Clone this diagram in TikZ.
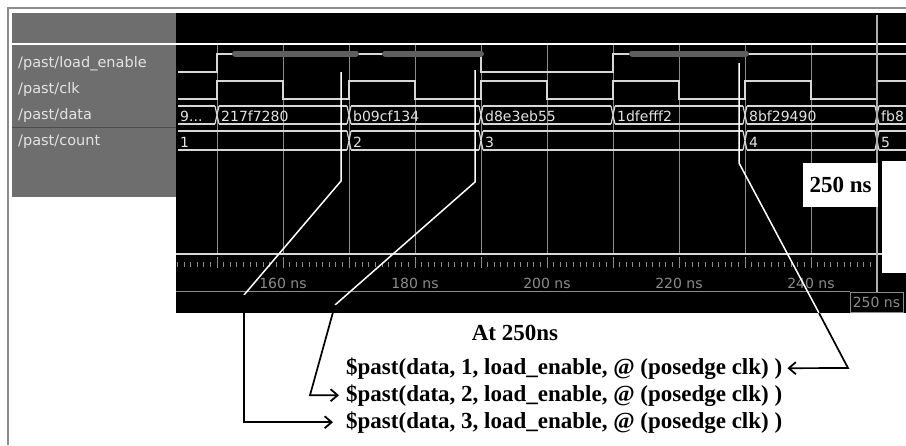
\documentclass[tikz,border=0pt]{standalone}
\usepackage{fontspec}
\setmainfont{Liberation Serif}
\newfontfamily\wavefont{DejaVu Sans}
\usetikzlibrary{arrows.meta,positioning,calc}
\definecolor{framegray}{RGB}{140,140,140}
\definecolor{panelgray}{RGB}{110,110,110}
\definecolor{labelwhite}{RGB}{228,228,228}
\definecolor{wavewhite}{RGB}{215,215,215}
\definecolor{gridgray}{RGB}{140,140,140}
\definecolor{bargray}{RGB}{95,95,95}
\definecolor{cursorgray}{RGB}{175,175,175}
\tikzset{>={Straight Barb[length=7pt,width=12pt,line width=1.8pt]}, wave/.style={draw=wavewhite, line width=1.2pt},
gridline/.style={draw=gridgray, line width=0.8pt},
siglabel/.style={anchor=base west, inner sep=0pt, text=labelwhite, font=\wavefont\fontsize{14.5}{14.5}\selectfont},
busval/.style={anchor=base west, inner sep=0pt, text=labelwhite, font=\wavefont\fontsize{14}{14}\selectfont},
timelbl/.style={anchor=base, inner sep=0pt, text=gridgray, font=\wavefont\fontsize{14}{14}\selectfont},
anntext/.style={inner sep=0pt, font=\bfseries\fontsize{23}{23}\selectfont},
holdbar/.style={draw=bargray, line width=6pt, line cap=round},
callout/.style={draw=white, line width=1.5pt},
pointer/.style={draw=black, line width=1.7pt, ->}}

\begin{document}
\begin{tikzpicture}[x=1pt,y=-1pt]
\useasboundingbox (0,0) rectangle (906,445);
% Window frame and panels
\draw[framegray, line width=1.5pt] (8,445) -- (8,8) -- (906,8);
\fill[panelgray] (12,13) rectangle (176,197);
\fill[black] (176,13) rectangle (906,313);
\draw[white, line width=2.5pt] (12,44) -- (906,44);
\draw[black!70, line width=1pt] (12,127) -- (176,127);
% Signal names
\node[siglabel] (lblload) at (18,67) {/past/load\_enable};
\node[siglabel] (lblclk) at (18,93) {/past/clk};
\node[siglabel] (lbldata) at (18,119) {/past/data};
\node[siglabel] (lblcount) at (18,145) {/past/count};
% Grid
\foreach \gx in {217,283,...,811} \draw[gridline] (\gx,45) -- (\gx,253);
% Waves
\draw[wave] (178,72) -- (217,72) -- (217,54) -- (481,54) -- (481,72) -- (613,72) -- (613,54) -- (906,54);
\draw[holdbar] (235,53.5) -- (356,53.5);
\draw[holdbar] (385,53.5) -- (481,53.5);
\draw[holdbar] (632,53.5) -- (746,53.5);
\draw[wave] (178,99) -- (217,99) -- (217,81) -- (283,81) -- (283,99) -- (349,99) -- (349,81) -- (415,81) -- (415,99)
  -- (481,99) -- (481,81) -- (547,81) -- (547,99) -- (613,99) -- (613,81) -- (679,81) -- (679,99) -- (745,99)
  -- (745,81) -- (811,81) -- (811,99) -- (877,99) -- (877,81) -- (906,81);
% Buses
\def\bus#1#2#3#4#5#6{
  \draw[wave] (#1+2,#3) -- (#2-2,#3) (#1+2,#4) -- (#2-2,#4);
  \draw[wave] (#2-2,#3) -- (#2+2,#4) (#2-2,#4) -- (#2+2,#3);
  \node[busval] (#5) at (#1+4,#4-3) {#6};
}
\bus{176}{217}{106}{124}{dzero}{9...}
\bus{217}{349}{106}{124}{done}{217f7280}
\bus{349}{481}{106}{124}{dtwo}{b09cf134}
\bus{481}{613}{106}{124}{dthree}{d8e3eb55}
\bus{613}{745}{106}{124}{dfour}{1dfefff2}
\bus{745}{877}{106}{124}{dfive}{8bf29490}
\bus{877}{940}{106}{124}{dsix}{fb8}
\bus{176}{349}{131}{150}{cone}{1}
\bus{349}{481}{131}{150}{ctwo}{2}
\bus{481}{745}{131}{150}{cthree}{3}
\bus{745}{877}{131}{150}{cfour}{4}
\bus{877}{940}{131}{150}{cfive}{5}
% Time axis
\draw[white!85!black, line width=2pt] (176,254) -- (906,254);
\foreach \t in {144,...,250} \draw[gridgray, line width=0.7pt] ({217+(\t-150)*6.6},262) -- ++(0,5);
\foreach \t in {150,160,...,250} \draw[gridgray, line width=0.8pt] ({217+(\t-150)*6.6},257) -- ++(0,11);
\foreach \t in {160,180,...,240} \node[timelbl] (t\t) at ({217+(\t-150)*6.6},288) {\t\ ns};
\draw[gridgray, line width=0.8pt] (176,291) -- (850,291);
% Cursor
\draw[cursorgray, line width=2.5pt] (877,15) -- (877,292);
\node[anntext, fill=white, minimum width=75pt, minimum height=44pt] (curlbl) at (840.5,185) {250 ns};
\fill[white] (882,161) rectangle (906,273);
\node[draw=gridgray, fill=black, text=gridgray, font=\wavefont\fontsize{14}{14}\selectfont, minimum width=53pt, minimum height=20pt, inner sep=1pt] (curtime) at (876.5,302) {250 ns};
% Notes
\node[anntext, anchor=base] (attime) at (515,340) {At 250ns};
\node[anntext, anchor=base west] (pastone) at (346,374) {\$past(data, 1, load\_enable, @ (posedge clk) )};
\node[anntext, anchor=base west] (pasttwo) at (346,401) {\$past(data, 2, load\_enable, @ (posedge clk) )};
\node[anntext, anchor=base west] (pastthree) at (346,428) {\$past(data, 3, load\_enable, @ (posedge clk) )};
% Pointers
\coordinate (mkone) at (341,72); \coordinate (kneeone) at (341,181); \coordinate (footone) at (244,295);
\coordinate (mktwo) at (475,70); \coordinate (kneetwo) at (475,182); \coordinate (foottwo) at (335,305);
\coordinate (elbowtwo) at (310,397);
\coordinate (mkthree) at (739,63); \coordinate (kneethree) at (739,163); \coordinate (footthree) at (819,313);
\coordinate (elbowthree) at (848,368);
\draw[callout] (mkone) -- (kneeone) -- (footone);
\draw[pointer, shorten >=13pt] (footone) |- (pastthree.west);
\draw[callout] (mktwo) -- (kneetwo) -- (foottwo);
\draw[pointer, shorten >=7pt] (foottwo) -- (pasttwo.west -| elbowtwo) -- (pasttwo.west);
\draw[callout] (mkthree) -- (kneethree) -- (footthree);
\draw[pointer, shorten >=5pt] (footthree) -- (elbowthree) -- (pastone.east);
\end{tikzpicture}
\end{document}
